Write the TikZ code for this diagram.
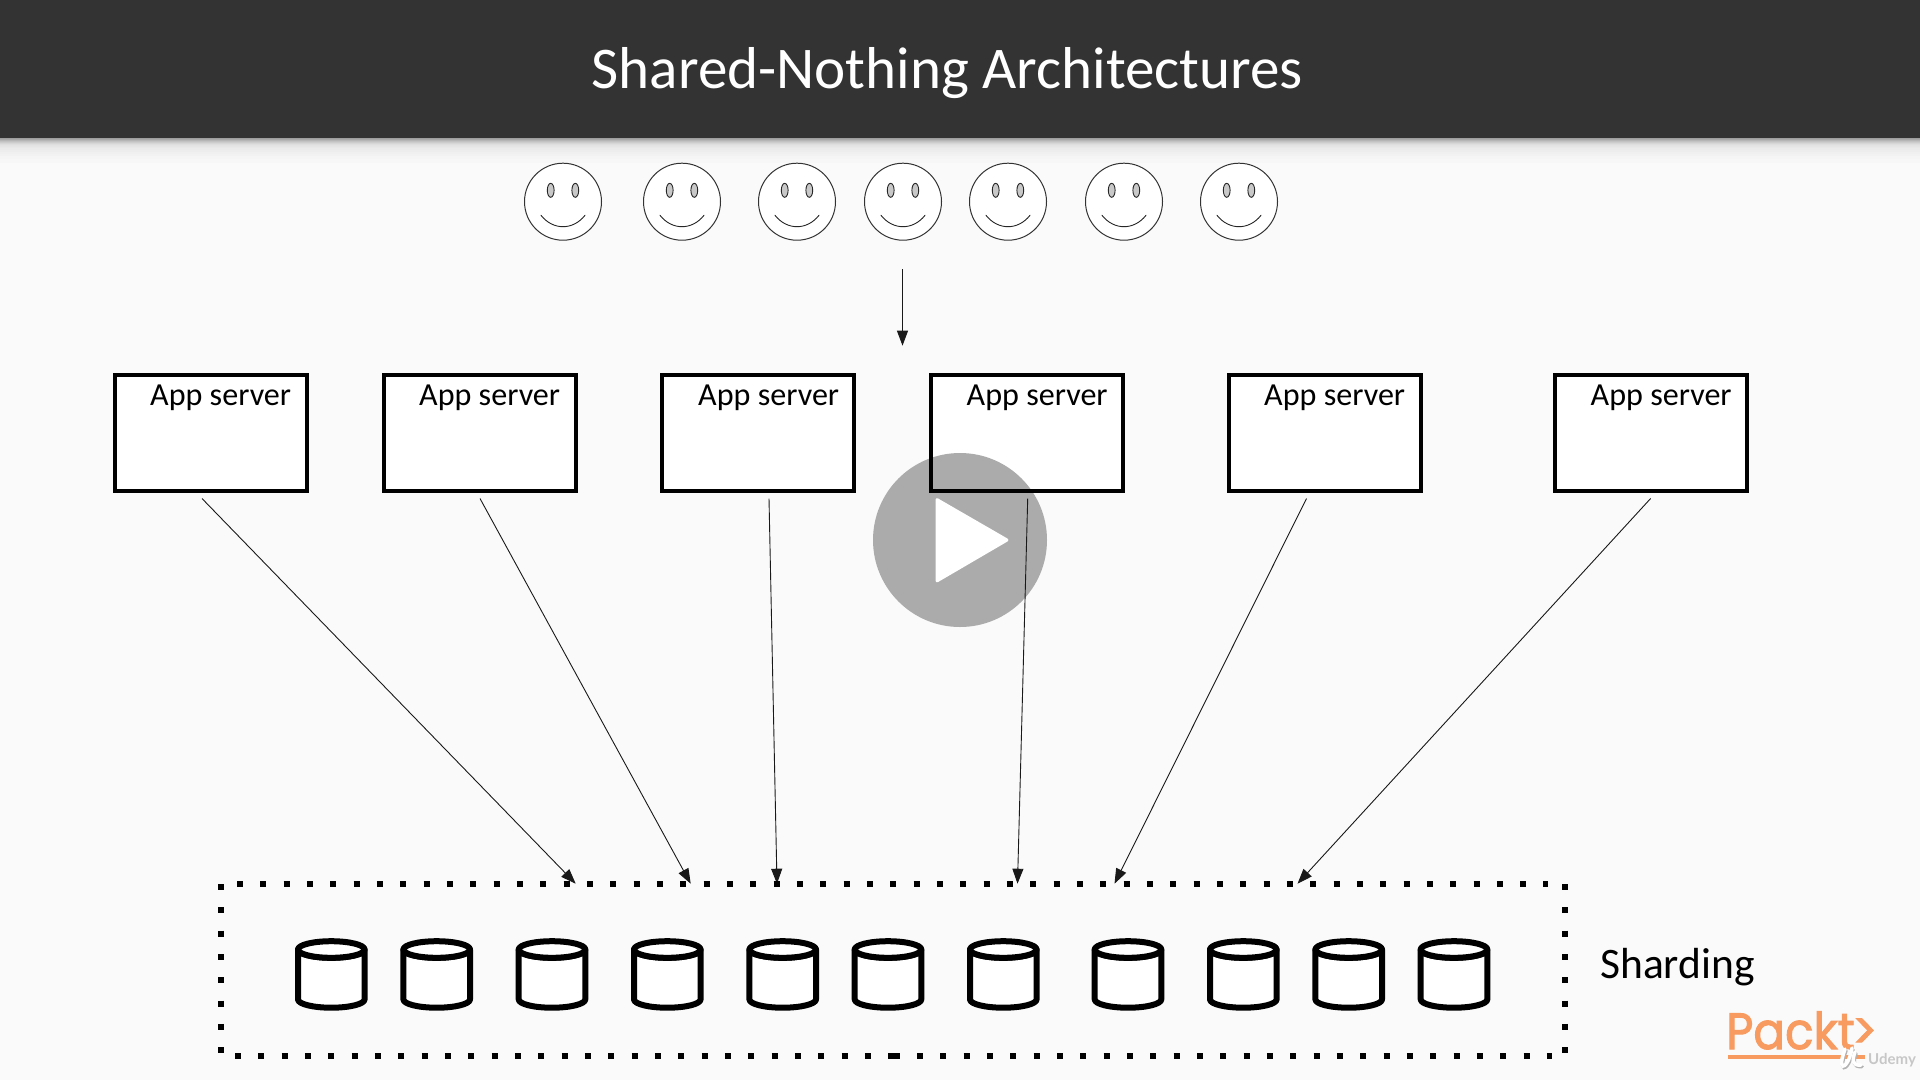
\documentclass[tikz,border=0pt]{standalone}
\usepackage{fontspec}
\setmainfont{Carlito}
\newfontfamily\logofont[FakeBold=2]{Poppins}
\newfontfamily\udemyfont{Lato}
\usetikzlibrary{arrows.meta}
\definecolor{pagebg}{HTML}{FAFAFA}
\definecolor{headbg}{HTML}{333333}
\definecolor{playgrey}{HTML}{ABABAB}
\definecolor{eyegrey}{HTML}{C8C8C8}
\definecolor{packt}{HTML}{F79B61}
\tikzset{
  appbox/.style={draw=black,fill=white,line width=3.5pt,inner sep=0pt,outer sep=0pt,minimum width=192pt,minimum height=116pt,anchor=north west},
  applabel/.style={font=\fontsize{32.1}{32}\selectfont,inner sep=0pt,anchor=base west},
  face/.style={draw=black!80,fill=white,line width=1pt,circle,inner sep=0pt,outer sep=0pt,minimum size=77pt},
  eye/.style={draw=black!85,fill=eyegrey,line width=0.9pt},
  smileline/.style={draw=black!85,line width=0.9pt,line cap=round},
  conn/.style={draw=black!90,line width=0.9pt,-{Triangle[length=15pt,width=11pt]}},
  dotline/.style={draw=black,line width=6pt,dash pattern=on 6pt off 17.33pt},
  cyl/.style={draw=black,fill=white,line width=6pt,line join=round},
  iconstroke/.style={line width=3.5pt,line cap=round},
}
\begin{document}
\begin{tikzpicture}[x=1pt,y=1pt,yscale=-1]
\useasboundingbox (0,0) rectangle (1920,1080);
\fill[pagebg] (0,0) rectangle (1920,1080);
% header shadow
\foreach \i/\c in {0/62,1/66,2/71,3/76,4/80,5/84,6/87,7/89,8/90,9/91,10/92,11/92,12/93,13/93,14/94,15/94,16/95,17/95,18/96,19/96,20/96,21/97,22/97,23/97,24/97}{
  \fill[black!\the\numexpr100-\c\relax!white] (0,138+\i) rectangle (1920,139+\i);
}
\fill[headbg] (0,0) rectangle (1920,138);
\node[font=\fontsize{59.1}{59}\selectfont,text=white,inner sep=0pt,anchor=base west] (title) at (591.5,88) {Shared-Nothing Architectures};
% faces
\foreach \n/\x in {1/563,2/682,3/797,4/903,5/1008,6/1124,7/1239}{
  \node[face] (f\n) at (\x,201.7) {};
  \draw[eye] (\x-12.3,190.3) ellipse [x radius=3.4pt,y radius=7pt];
  \draw[eye] (\x+12.3,190.3) ellipse [x radius=3.4pt,y radius=7pt];
  \draw[smileline] (\x-22,215.3) .. controls (\x-10,230.5) and (\x+10,230.5) .. (\x+22,215.3);
}
% app servers
\foreach \n/\x/\t in {1/115/150,2/384/419,3/662/698,4/931/966.5,5/1229/1264,6/1555/1590.5}{
  \node[appbox] (b\n) at (\x,375) {};
  \node[applabel] (l\n) at (\t,405) {App server};
}
% play button
\fill[playgrey] (960,540) circle [radius=87pt];
\fill[white,rounded corners=3pt] (935.5,497) -- (1010,540) -- (935.5,583.5) -- cycle;
\draw[black,line width=3.5pt] (b4.north west) rectangle (b4.south east);
% connector ends
\coordinate (top) at (902.5,269);
\coordinate (mid) at (902.5,345.7);
\foreach \n/\sx/\ex in {1/202/575.7,2/480/690.7,3/769/777,4/1027.7/1017.5,5/1306.5/1114.5,6/1650.6/1297.5}{
  \coordinate (s\n) at (\sx,498.5);
  \coordinate (e\n) at (\ex,883.7);
  \draw[conn] (s\n) -- (e\n);
}
\draw[conn] (top) -- (mid);
% dotted sharding frame
\draw[dotline] (237,883.7) -- (1548,883.7);
\draw[dotline] (235,1056) -- (893.5,1056);
\draw[dotline] (893.7,1056) -- (1552,1056);
\draw[dotline] (221,884) -- (221,1056);
\draw[dotline] (1565,884) -- (1565,1056);
% cylinders
\foreach \n/\x in {1/331.3,2/436.7,3/552,4/667.3,5/782.7,6/888,7/1003.3,8/1128,9/1243.3,10/1348.7,11/1454}{
  \draw[cyl] (\x-33.3,949.5) -- (\x-33.3,999.4) arc[start angle=180,end angle=0,x radius=33.3pt,y radius=8.3pt] -- (\x+33.3,949.5) arc[start angle=0,end angle=180,x radius=33.3pt,y radius=8.3pt] -- cycle;
  \draw[cyl] (\x,949.5) ellipse [x radius=33.3pt,y radius=8.3pt];
}
\node[font=\fontsize{43.5}{43}\selectfont,inner sep=0pt,anchor=base west] (sharding) at (1600,978) {Sharding};
% logo
\node[inner sep=0pt,anchor=base west,text=packt] (packt) at (1726,1049) {\scalebox{0.92}[1]{\logofont\fontsize{51}{51}\selectfont Packt\kern-3pt >}};
\fill[packt] (1728,1055) rectangle (1865,1059);
\begin{scope}[shift={(1,1.5)},black!30]
\draw[iconstroke] (1845,1049) .. controls (1842,1058) and (1840,1064) .. (1843,1066) .. controls (1847,1066) and (1851,1055) .. (1852,1048);
\draw[iconstroke] (1855,1052) .. controls (1852,1060) and (1852,1066) .. (1861,1065);
\end{scope}
\draw[iconstroke,white] (1845,1049) .. controls (1842,1058) and (1840,1064) .. (1843,1066) .. controls (1847,1066) and (1851,1055) .. (1852,1048);
\draw[iconstroke,white] (1855,1052) .. controls (1852,1060) and (1852,1066) .. (1861,1065);
\node[font=\fontsize{15}{15}\selectfont\bfseries,text=black!22,inner sep=0pt,anchor=base west] (udemy) at (1868,1064.5) {\udemyfont Udemy};
\end{tikzpicture}
\end{document}
